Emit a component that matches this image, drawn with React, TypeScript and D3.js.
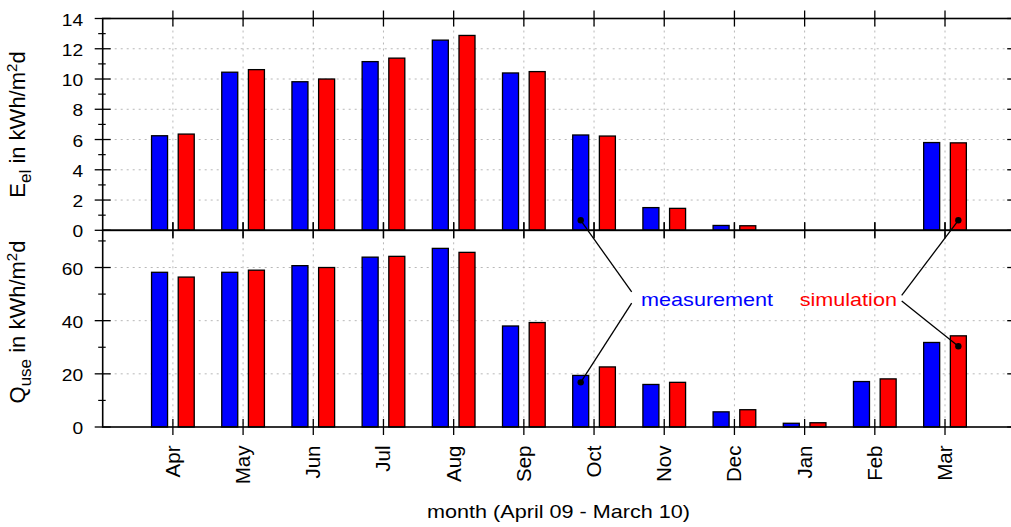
import React from "react";
import * as d3 from "d3";

// monthly values, April 09 - March 10
const months = ["Apr", "May", "Jun", "Jul", "Aug", "Sep", "Oct", "Nov", "Dec", "Jan", "Feb", "Mar"];
const elMeasurement = [6.25, 10.45, 9.82, 11.15, 12.57, 10.4, 6.3, 1.5, 0.32, 0, 0, 5.8];
const elSimulation = [6.36, 10.62, 10.0, 11.38, 12.88, 10.49, 6.23, 1.45, 0.3, 0, 0, 5.78];
const useMeasurement = [58.2, 58.2, 60.7, 63.9, 67.2, 38.0, 19.4, 16.0, 5.7, 1.4, 17.1, 31.8];
const useSimulation = [56.4, 59.0, 60.0, 64.2, 65.7, 39.3, 22.6, 16.8, 6.5, 1.6, 18.1, 34.3];

const elTicks = [0, 2, 4, 6, 8, 10, 12, 14];
const elMinor = [1, 3, 5, 7, 9, 11, 13];
const useTicks = [0, 20, 40, 60];
const useMinor = [10, 30, 50, 70];

// callouts: label position (month index, Q_use value) and the marked points
const calloutLabels = [
  { text: "measurement", color: "#0000ff", x: 6.67, y: 45.4 },
  { text: "simulation", color: "#ff0000", x: 8.93, y: 45.4 },
];
const calloutLines = [
  { month: 6, series: "m", elValue: 0.66, useValue: 16.8, jx: 6.536, jTop: 50.8, jBot: 46.6 },
  { month: 11, series: "s", elValue: 0.66, useValue: 30.4, jx: 10.383, jTop: 49.5, jBot: 47.4 },
];

const BLUE = "#0000ff";
const RED = "#ff0000";
const FONT = "'Liberation Sans', Arial, Helvetica, sans-serif";
const SX = 1.2; // horizontal text stretch seen in the original

const x = d3.scaleLinear().domain([-1, 12]).range([102.7, 1015.2]);
const yEl = d3.scaleLinear().domain([0, 14]).range([230.3, 18.5]);
const yUse = d3.scaleLinear().domain([0, 74]).range([427, 230.3]);

const barW = x(0.228) - x(0);
const offM = -0.19;
const offS = 0.19;

const HText = ({ x, y, anchor = "start", size, fill = "#000", children }: any) => (
  <g transform={`translate(${x},${y}) scale(${SX},1)`}>
    <text textAnchor={anchor} fontSize={size} fill={fill} fontFamily={FONT}>
      {children}
    </text>
  </g>
);

const Panel = ({ y, values, ticks, minor }: any) => {
  const [y0, y1] = y.range();
  const left = x.range()[0];
  const right = x.range()[1];
  return (
    <g>
      {/* grid */}
      {ticks
        .filter((t: number) => y(t) < y0 - 1 && y(t) > y1 + 1)
        .map((t: number) => (
          <line key={"h" + t} x1={left} x2={right} y1={y(t)} y2={y(t)}
            stroke="#b8b8b8" strokeDasharray="2,4" />
        ))}
      {months.map((m, i) => (
        <line key={"v" + m} x1={x(i)} x2={x(i)} y1={y1} y2={y0}
          stroke="#b8b8b8" strokeDasharray="2,4" />
      ))}
      {/* bars */}
      {values.map(([vm, vs]: number[], i: number) => (
        <g key={"b" + i}>
          {vm > 0 && (
            <rect x={x(i + offM) - barW / 2} y={y(vm)} width={barW} height={y(0) - y(vm)}
              fill={BLUE} stroke="#000" strokeWidth={1.3} />
          )}
          {vs > 0 && (
            <rect x={x(i + offS) - barW / 2} y={y(vs)} width={barW} height={y(0) - y(vs)}
              fill={RED} stroke="#000" strokeWidth={1.3} />
          )}
        </g>
      ))}
      {/* y ticks left and right */}
      {ticks.map((t: number) => (
        <g key={"t" + t}>
          <line x1={left - 8} x2={left + 8} y1={y(t)} y2={y(t)} stroke="#000" strokeWidth={1.3} />
          <line x1={right - 8} x2={right + 8} y1={y(t)} y2={y(t)} stroke="#000" strokeWidth={1.3} />
          <HText x={left - 19.5} y={y(t) + 7} anchor="end" size={16}>{t}</HText>
        </g>
      ))}
      {minor.map((t: number) => (
        <g key={"mt" + t}>
          <line x1={left - 4.5} x2={left + 3} y1={y(t)} y2={y(t)} stroke="#000" strokeWidth={1.2} />
          <line x1={right - 3} x2={right + 4.5} y1={y(t)} y2={y(t)} stroke="#000" strokeWidth={1.2} />
        </g>
      ))}
      {/* x ticks on top and bottom border */}
      {months.map((m, i) => (
        <g key={"xt" + m}>
          <line x1={x(i)} x2={x(i)} y1={y1 - 8} y2={y1 + 8} stroke="#000" strokeWidth={1.3} />
          <line x1={x(i)} x2={x(i)} y1={y0 - 8} y2={y0 + 8} stroke="#000" strokeWidth={1.3} />
        </g>
      ))}
      <rect x={left} y={y1} width={right - left} height={y0 - y1} fill="none" stroke="#000" strokeWidth={1.6} />
    </g>
  );
};

export default function App() {
  const elPairs = months.map((_, i) => [elMeasurement[i], elSimulation[i]]);
  const usePairs = months.map((_, i) => [useMeasurement[i], useSimulation[i]]);
  return (
    <svg width={1011} height={527} style={{ position: "absolute", left: 0, top: 0, background: "#fff" }}>
      <rect width={1011} height={527} fill="#fff" />
      <Panel y={yEl} values={elPairs} ticks={elTicks} minor={elMinor} />
      <Panel y={yUse} values={usePairs} ticks={useTicks} minor={useMinor} />

      {/* x tick labels */}
      {months.map((m, i) => (
        <text key={"xl" + m} transform={`translate(${x(i) + 7},445.5) rotate(-90)`}
          textAnchor="end" fontSize={20.5} fontFamily={FONT}>
          {m}
        </text>
      ))}

      {/* axis titles */}
      <HText x={558.5} y={518} anchor="middle" size={18}>month (April 09 - March 10)</HText>
      <text transform="translate(25,124.5) rotate(-90)" textAnchor="middle" fontSize={22} fontFamily={FONT}>
        E<tspan fontSize={17} dy={6}>el</tspan>
        <tspan dy={-6}> in kWh/m</tspan>
        <tspan fontSize={15} dy={-8}>2</tspan>
        <tspan dy={8}>d</tspan>
      </text>
      <text transform="translate(25,322) rotate(-90)" textAnchor="middle" fontSize={22} fontFamily={FONT}>
        Q<tspan fontSize={17} dy={6}>use</tspan>
        <tspan dy={-6}> in kWh/m</tspan>
        <tspan fontSize={15} dy={-8}>2</tspan>
        <tspan dy={8}>d</tspan>
      </text>

      {/* callouts */}
      {calloutLines.map((c) => {
        const px = x(c.month + (c.series === "m" ? offM : offS));
        return (
          <g key={"c" + c.month}>
            <line x1={px} y1={yEl(c.elValue)} x2={x(c.jx)} y2={yUse(c.jTop)} stroke="#000" strokeWidth={1.3} />
            <line x1={px} y1={yUse(c.useValue)} x2={x(c.jx)} y2={yUse(c.jBot)} stroke="#000" strokeWidth={1.3} />
            <circle cx={px} cy={yEl(c.elValue)} r={3.2} fill="#000" />
            <circle cx={px} cy={yUse(c.useValue)} r={3.2} fill="#000" />
          </g>
        );
      })}
      {calloutLabels.map((l) => (
        <HText key={l.text} x={x(l.x)} y={yUse(l.y)} size={18} fill={l.color}>{l.text}</HText>
      ))}
    </svg>
  );
}
